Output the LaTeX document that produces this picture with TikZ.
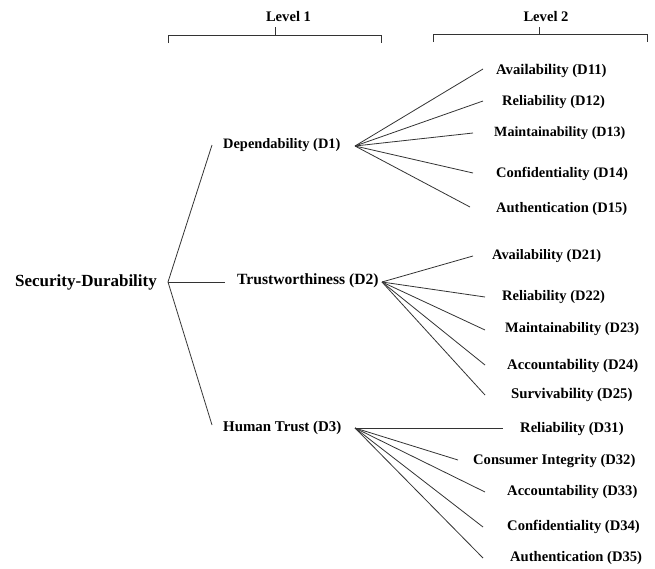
\documentclass[tikz,border=0pt]{standalone}
\usepackage{fontspec}
\setmainfont{Liberation Serif}
\begin{document}
\begin{tikzpicture}[x=1pt,y=-1pt,
  lab/.style={font=\bfseries\fontsize{#1}{#1}\selectfont, inner sep=0pt, anchor=west, text=black},
  conn/.style={draw=black!80, line width=0.8pt},
  brk/.style={draw=black!80, line width=0.8pt}]
\useasboundingbox (0,0) rectangle (655,568);

% level headers
\node[lab=14.6, anchor=center] (lv1) at (288.5,17) {Level 1};
\node[lab=14.6, anchor=center] (lv2) at (546,17) {Level 2};
\coordinate (b1a) at (168,43); \coordinate (b1b) at (381,43); \coordinate (b1t) at (275,27);
\coordinate (b2a) at (433,42); \coordinate (b2b) at (647,42); \coordinate (b2t) at (539,27);
\draw[brk] (b1a) -- (b1a |- 0,35) -- (b1b |- 0,35) -- (b1b);
\draw[brk] (b1t) -- (b1t |- 0,35);
\draw[brk] (b2a) -- (b2a |- 0,34) -- (b2b |- 0,34) -- (b2b);
\draw[brk] (b2t) -- (b2t |- 0,34);

% root
\node[lab=17] (root) at (15,282) {Security-Durability};
\coordinate (rj) at (168,282);

% level 1
\node[lab=14.4] (d1) at (223,145) {Dependability (D1)};
\node[lab=15.6] (d2) at (237,281) {Trustworthiness (D2)};
\node[lab=14.9] (d3) at (223,428) {Human Trust (D3)};
\coordinate (r1) at (212,145);
\coordinate (r2) at (225,282);
\coordinate (r3) at (212,425);
\draw[conn] (rj) -- (r1);
\draw[conn] (rj) -- (r2);
\draw[conn] (rj) -- (r3);

\coordinate (j1) at (355,146);
\coordinate (j2) at (382,282);
\coordinate (j3) at (355,428);

% D1 children
\node[lab=14.7] (d11) at (496,71) {Availability (D11)};
\node[lab=14.5] (d12) at (502,102) {Reliability (D12)};
\node[lab=14.1] (d13) at (494,133) {Maintainability (D13)};
\node[lab=14.5] (d14) at (496,174) {Confidentiality (D14)};
\node[lab=14.5] (d15) at (496,209) {Authentication (D15)};
\coordinate (e11) at (483,69);
\coordinate (e12) at (483,101);
\coordinate (e13) at (473,133);
\coordinate (e14) at (473,173);
\coordinate (e15) at (470,207);
\foreach \i in {11,12,13,14,15} \draw[conn] (j1) -- (e\i);

% D2 children
\node[lab=14.4] (d21) at (492,256) {Availability (D21)};
\node[lab=14.5] (d22) at (502,297) {Reliability (D22)};
\node[lab=14.4] (d23) at (505,329) {Maintainability (D23)};
\node[lab=14.7] (d24) at (507,366) {Accountability (D24)};
\node[lab=14.8] (d25) at (511,395) {Survivability (D25)};
\coordinate (e21) at (473,256);
\coordinate (e22) at (485,297);
\coordinate (e23) at (485,330);
\coordinate (e24) at (485,365);
\coordinate (e25) at (485,395);
\foreach \i in {21,22,23,24,25} \draw[conn] (j2) -- (e\i);

% D3 children
\node[lab=14.6] (d31) at (520,429) {Reliability (D31)};
\node[lab=14.6] (d32) at (473,461) {Consumer Integrity (D32)};
\node[lab=14.6] (d33) at (507,492) {Accountability (D33)};
\node[lab=14.6] (d34) at (507,527) {Confidentiality (D34)};
\node[lab=14.6] (d35) at (510,558) {Authentication (D35)};
\coordinate (e31) at (503,428);
\coordinate (e32) at (458,460);
\coordinate (e33) at (485,492);
\coordinate (e34) at (483,527);
\coordinate (e35) at (483,558);
\foreach \i in {31,32,33,34,35} \draw[conn] (j3) -- (e\i);
\end{tikzpicture}
\end{document}
